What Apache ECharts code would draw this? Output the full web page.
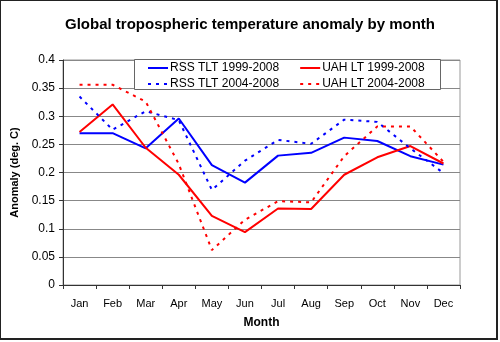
<!DOCTYPE html>
<html><head><meta charset="utf-8">
<script src="https://cdn.jsdelivr.net/npm/echarts@6/dist/echarts.min.js"></script>
<style>
html,body{margin:0;padding:0;background:#fff;}
#wrap{position:relative;width:500px;height:342px;}
#c{width:500px;height:342px;}
#frame{position:absolute;left:0;top:0;width:498px;height:340px;border:1px solid #222;border-right:2px solid #222;border-bottom:2px solid #222;box-sizing:border-box;pointer-events:none;}
</style></head>
<body><div id="wrap"><div id="c"></div><div id="frame"></div></div>
<script>
const months = ['Jan','Feb','Mar','Apr','May','Jun','Jul','Aug','Sep','Oct','Nov','Dec'];
const rss9908 = [0.270,0.270,0.243,0.296,0.213,0.182,0.230,0.235,0.262,0.256,0.229,0.214];
const uah9908 = [0.272,0.321,0.244,0.196,0.123,0.094,0.136,0.135,0.196,0.227,0.247,0.216];
const rss0408 = [0.335,0.276,0.309,0.293,0.169,0.221,0.258,0.251,0.294,0.290,0.243,0.199];
const uah0408 = [0.356,0.356,0.326,0.215,0.062,0.116,0.149,0.147,0.229,0.282,0.282,0.219];
const names = ['RSS TLT 1999-2008','UAH LT 1999-2008','RSS TLT 2004-2008','UAH LT 2004-2008'];

const font = 'Liberation Sans, Arial, sans-serif';
const chart = echarts.init(document.getElementById('c'), null, {renderer:'canvas'});
function ser(name, data, color, dashed){
  return {name, type:'line', data, symbol:'none', showSymbol:false, z:3,
    lineStyle:{color, width:2, type: dashed ? [3,5] : 'solid'},
    itemStyle:{color}};
}
const legBase = {itemWidth:20, itemHeight:10, itemGap:20, padding:0,
  itemStyle:{opacity:0},
  textStyle:{fontFamily:font, fontSize:12, color:'#000', padding:[0,0,0,-3]}, z:6,
  selectedMode:false};
chart.setOption({
  animation:false,
  title:{text:'Global tropospheric temperature anomaly by month', left:'center', top:12,
    textStyle:{fontFamily:font, fontSize:15, fontWeight:'bold', color:'#000'}},
  graphic:[{type:'rect', left:134, top:59, shape:{width:306, height:30},
    style:{fill:'#fff', stroke:'#666', lineWidth:1}, z:5}],
  legend:[
    Object.assign({}, legBase, {data:[names[0],names[1]], left:147, top:62}),
    Object.assign({}, legBase, {data:[names[2],names[3]], left:147, top:78})
  ],
  grid:{left:63, right:40, top:60, bottom:57, show:true, borderColor:'#999', borderWidth:1},
  xAxis:{type:'category', data:months, boundaryGap:true,
    name:'Month', nameLocation:'middle', nameGap:32,
    nameTextStyle:{fontFamily:font, fontSize:12, fontWeight:'bold', color:'#000'},
    axisLine:{lineStyle:{color:'#333', width:1}},
    axisTick:{show:true, alignWithLabel:false, length:4, lineStyle:{color:'#333'}},
    axisLabel:{fontFamily:font, fontSize:11, color:'#000', margin:13}},
  yAxis:{type:'value', min:0, max:0.4, interval:0.05,
    name:'Anomaly (deg. C)', nameLocation:'middle', nameGap:38, nameRotate:90,
    nameTextStyle:{fontFamily:font, fontSize:11, fontWeight:'bold', color:'#000'},
    axisLine:{show:true, lineStyle:{color:'#333', width:1}},
    axisTick:{show:true, length:4, lineStyle:{color:'#333'}},
    axisLabel:{fontFamily:font, fontSize:12, color:'#000', margin:8,
      formatter:v=>String(+v.toFixed(2))},
    splitLine:{show:true, lineStyle:{color:'#888', width:1}}},
  series:[
    ser(names[0], rss9908, '#0000ff', false),
    ser(names[1], uah9908, '#ff0000', false),
    ser(names[2], rss0408, '#0000ff', true),
    ser(names[3], uah0408, '#ff0000', true)
  ]
});
</script></body></html>
